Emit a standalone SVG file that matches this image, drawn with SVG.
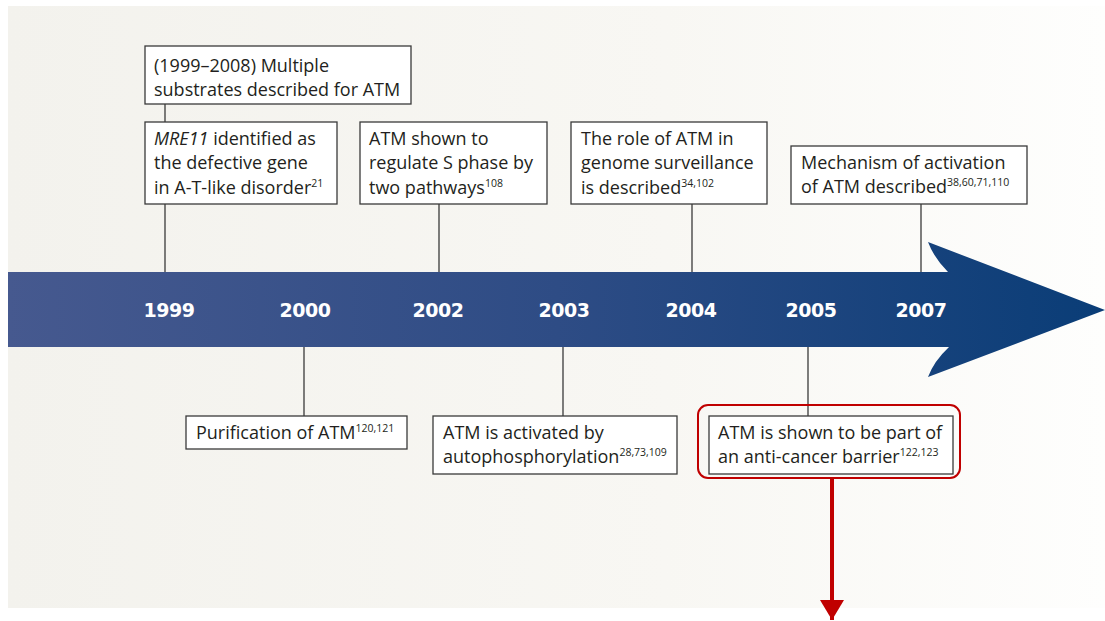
<svg xmlns="http://www.w3.org/2000/svg" width="1105" height="621" viewBox="0 0 1105 621">
<defs>
<linearGradient id="bg" x1="0" y1="0" x2="1" y2="0">
<stop offset="0" stop-color="#f3f2ed"/>
<stop offset="0.6" stop-color="#f8f7f3"/>
<stop offset="1" stop-color="#fefefd"/>
</linearGradient>
<linearGradient id="band" x1="8" y1="0" x2="1105" y2="0" gradientUnits="userSpaceOnUse">
<stop offset="0" stop-color="#46598f"/>
<stop offset="0.5" stop-color="#2e4c85"/>
<stop offset="1" stop-color="#0a3d77"/>
</linearGradient>
<marker id="redhead" markerWidth="5" markerHeight="6" refX="5" refY="3" orient="auto" markerUnits="strokeWidth">
<path d="M0,0 L5,3 L0,6 Z" fill="#c00000"/>
</marker>
<style>
.box{fill:#ffffff;stroke:#3a3a3a;stroke-width:1.3}
.t{font-family:"Open Sans","Noto Sans",sans-serif;font-size:18px;fill:#231f20}
.sup{font-size:10.5px}
.yr{font-family:"DejaVu Sans",sans-serif;font-weight:bold;font-size:19px;fill:#ffffff;text-anchor:middle;letter-spacing:-0.5px}
.ln{stroke:#3a3a3a;stroke-width:1.3;fill:none}
</style>
</defs>
<rect x="0" y="0" width="1105" height="621" fill="#ffffff"/>
<rect x="8" y="6" width="1097" height="602" fill="url(#bg)"/>
<g id="timeline">
<path d="M8,272 L948,272 Q934,258 928,242 L1105,310 L928,377 Q934,361 949,347 L8,347 Z" fill="url(#band)"/>
<text class="yr" x="169" y="317">1999</text>
<text class="yr" x="305" y="317">2000</text>
<text class="yr" x="438" y="317">2002</text>
<text class="yr" x="564" y="317">2003</text>
<text class="yr" x="691" y="317">2004</text>
<text class="yr" x="811" y="317">2005</text>
<text class="yr" x="921" y="317">2007</text>
</g>
<g id="connectors">
<line class="ln" x1="165" y1="104" x2="165" y2="122"/>
<line class="ln" x1="165" y1="204" x2="165" y2="272"/>
<line class="ln" x1="439" y1="204" x2="439" y2="272"/>
<line class="ln" x1="692" y1="204" x2="692" y2="272"/>
<line class="ln" x1="921" y1="204" x2="921" y2="272"/>
<line class="ln" x1="304" y1="347" x2="304" y2="416"/>
<line class="ln" x1="563" y1="347" x2="563" y2="416"/>
<line class="ln" x1="808" y1="347" x2="808" y2="416"/>
<line x1="832" y1="478" x2="832" y2="620" stroke="#c00000" stroke-width="4" marker-end="url(#redhead)"/>
</g>
<g id="node-substrates">
<rect class="box" x="145" y="46" width="266" height="58"/>
<text class="t" x="154" y="72">(1999–2008) Multiple</text>
<text class="t" x="154" y="96">substrates described for ATM</text>
</g>
<g id="node-mre11">
<rect class="box" x="145" y="122" width="192" height="82"/>
<text class="t" x="154" y="145"><tspan font-style="italic">MRE11</tspan> identified as</text>
<text class="t" x="154" y="169">the defective gene</text>
<text class="t" x="154" y="194">in A-T-like disorder<tspan class="sup" dy="-7">21</tspan></text>
</g>
<g id="node-sphase">
<rect class="box" x="360" y="122" width="187" height="82"/>
<text class="t" x="369" y="145">ATM shown to</text>
<text class="t" x="369" y="169">regulate S phase by</text>
<text class="t" x="369" y="194">two pathways<tspan class="sup" dy="-7">108</tspan></text>
</g>
<g id="node-surveillance">
<rect class="box" x="571" y="122" width="196" height="82"/>
<text class="t" x="581" y="145">The role of ATM in</text>
<text class="t" x="581" y="169">genome surveillance</text>
<text class="t" x="581" y="194">is described<tspan class="sup" dy="-7">34,102</tspan></text>
</g>
<g id="node-mechanism">
<rect class="box" x="791" y="146" width="236" height="58"/>
<text class="t" x="801" y="169">Mechanism of activation</text>
<text class="t" x="801" y="193">of ATM described<tspan class="sup" dy="-7">38,60,71,110</tspan></text>
</g>
<g id="node-purification">
<rect class="box" x="186" y="416" width="221" height="33"/>
<text class="t" x="196" y="439">Purification of ATM<tspan class="sup" dy="-7">120,121</tspan></text>
</g>
<g id="node-autophos">
<rect class="box" x="433" y="416" width="244" height="58"/>
<text class="t" x="443" y="439">ATM is activated by</text>
<text class="t" x="443" y="463">autophosphorylation<tspan class="sup" dy="-7">28,73,109</tspan></text>
</g>
<g id="node-barrier">
<rect class="box" x="709" y="416" width="244" height="58"/>
<text class="t" x="718" y="439">ATM is shown to be part of</text>
<text class="t" x="718" y="463">an anti-cancer barrier<tspan class="sup" dy="-7">122,123</tspan></text>
<rect x="698" y="405" width="262" height="73" rx="10" ry="10" fill="none" stroke="#c00000" stroke-width="2"/>
</g>
</svg>
